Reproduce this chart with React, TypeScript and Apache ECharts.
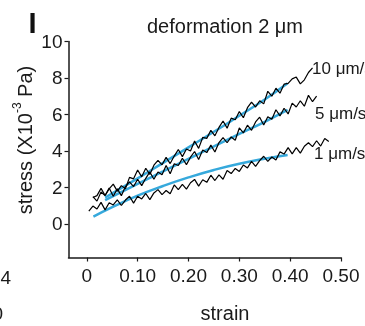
import { useEffect, useRef } from 'react';
import * as echarts from 'echarts';

const strain = [
  0.004, 0.012, 0.020, 0.028, 0.036, 0.044, 0.052, 0.060, 0.068, 0.076,
  0.084, 0.092, 0.100, 0.108, 0.116, 0.124, 0.132, 0.140, 0.148, 0.156,
  0.164, 0.172, 0.180, 0.188, 0.196, 0.204, 0.212, 0.220, 0.228, 0.236,
  0.244, 0.252, 0.260, 0.268, 0.276, 0.284, 0.292, 0.300, 0.308, 0.316,
  0.324, 0.332, 0.340, 0.348, 0.356, 0.364, 0.372, 0.380, 0.388, 0.396,
  0.404, 0.412, 0.420, 0.428, 0.436, 0.444, 0.452, 0.460, 0.468, 0.476,
];

const stress10 = [
  null, 1.45, 1.55, 1.95, 1.56, 1.92, 2.18, 1.80, 2.10, 1.93,
  2.55, 2.47, 2.96, 2.58, 3.05, 2.71, 3.22, 3.48, 3.24, 3.65,
  3.31, 3.72, 4.08, 3.69, 4.11, 4.00, 4.55, 4.14, 4.74, 4.69,
  5.13, 4.83, 5.29, 5.64, 5.25, 5.80, 5.71, 6.16, 5.82, 6.37,
  6.68, 6.41, 6.75, 6.58, 7.27, 7.00, 7.44, 7.17, 7.66, 7.70,
  7.95, 8.05, 7.68, 7.90, 8.30, 8.55, null, null, null, null,
];

const stress5 = [
  null, 1.50, 1.25, 1.75, 1.56, 1.97, 1.52, 1.92, 1.55, 2.05,
  2.30, 2.05, 2.45, 2.10, 2.50, 2.85, 2.45, 2.85, 2.70, 3.20,
  2.75, 3.30, 3.20, 3.60, 3.25, 3.66, 3.97, 3.53, 4.05, 3.91,
  4.32, 3.94, 4.46, 4.73, 4.45, 4.77, 4.59, 5.26, 4.99, 5.41,
  5.13, 5.59, 5.85, 5.42, 5.88, 5.74, 6.26, 5.92, 6.34, 6.03,
  6.62, 6.41, 6.75, 6.45, 7.05, 6.70, 7.00, null, null, null,
];

const stress1 = [
  0.70, 0.98, 0.82, 1.18, 0.77, 1.16, 1.04, 1.32, 1.01, 1.31,
  1.52, 1.14, 1.52, 1.37, 1.67, 1.33, 1.70, 1.88, 1.61, 1.83,
  1.65, 2.14, 1.88, 2.17, 1.91, 2.26, 2.44, 2.07, 2.42, 2.28,
  2.67, 2.38, 2.69, 2.45, 2.93, 2.76, 3.04, 2.88, 3.23, 3.07,
  3.43, 3.15, 3.47, 3.71, 3.43, 3.67, 3.51, 3.95, 3.83, 4.18,
  3.84, 4.18, 3.88, 4.26, 4.45, 4.24, 4.56, 4.27, 4.68, 4.52,
];

const fitStrain = [0.036, 0.10, 0.15, 0.20, 0.25, 0.30, 0.35, 0.395];
const fit10 = [1.45, 2.50, 3.35, 4.20, 5.05, 5.93, 6.82, 7.71];
const fit5 = [1.30, 2.20, 2.88, 3.57, 4.25, 4.93, 5.60, 6.25];
const fitStrain1 = [0.013, 0.05, 0.10, 0.15, 0.20, 0.25, 0.30, 0.35, 0.395];
const fit1 = [0.40, 0.92, 1.55, 2.08, 2.55, 2.96, 3.30, 3.57, 3.78];

const xTicks = [0, 0.1, 0.2, 0.3, 0.4, 0.5];
const yTicks = [0, 2, 4, 6, 8, 10];

const FONT = 'Arial, "Liberation Sans", sans-serif';
const BLUE = '#36a9dc';
const INK = '#1a1a1a';

function zip(xs: number[], ys: (number | null)[]) {
  return xs.map((x, i) => [x, ys[i]]);
}

export default function App() {
  const ref = useRef<HTMLDivElement>(null);
  useEffect(() => {
    const chart = echarts.init(ref.current!, null, { renderer: 'svg' });
    const black = (name: string, ys: (number | null)[]) => ({
      name,
      type: 'line',
      data: zip(strain, ys),
      showSymbol: false,
      symbol: 'none',
      lineStyle: { color: '#000', width: 1.2 },
      z: 3,
    });
    const blue = (name: string, xs: number[], ys: number[]) => ({
      name,
      type: 'line',
      data: zip(xs, ys),
      smooth: true,
      showSymbol: false,
      symbol: 'none',
      lineStyle: { color: BLUE, width: 2.5 },
      z: 2,
    });
    chart.setOption({
      animation: false,
      grid: { left: 68.5, right: 24, top: 41.5, bottom: 68.5, containLabel: false, outerBoundsMode: 'none' },
      xAxis: {
        type: 'value',
        min: -0.036,
        max: 0.5,
        splitLine: { show: false },
        axisLine: { onZero: false, lineStyle: { color: INK, width: 1.5 } },
        axisTick: { show: true, customValues: xTicks, length: 4, lineStyle: { color: INK, width: 1.2 } },
        axisLabel: {
          customValues: xTicks,
          margin: 8,
          color: INK,
          fontSize: 19,
          fontFamily: FONT,
          formatter: (v: number) => (v === 0 ? '0' : v.toFixed(2)),
        },
      },
      yAxis: {
        type: 'value',
        min: -1.84,
        max: 10,
        splitLine: { show: false },
        axisLine: { show: true, onZero: false, lineStyle: { color: INK, width: 1.5 } },
        axisTick: { show: true, customValues: yTicks, length: 4, lineStyle: { color: INK, width: 1.2 } },
        axisLabel: {
          customValues: yTicks,
          margin: 6,
          color: INK,
          fontSize: 19,
          fontFamily: FONT,
        },
      },
      series: [
        blue('fit 10', fitStrain, fit10),
        blue('fit 5', fitStrain, fit5),
        blue('fit 1', fitStrain1, fit1),
        black('10 μm/s', stress10),
        black('5 μm/s', stress5),
        black('1 μm/s', stress1),
      ],
      graphic: [
        { type: 'text', x: 32.5, y: 23, style: { text: 'I', font: `bold 29px ${FONT}`, fill: '#111', align: 'center', verticalAlign: 'middle' } },
        { type: 'text', x: 225, y: 26, style: { text: 'deformation 2 μm', font: `20px ${FONT}`, fill: INK, align: 'center', verticalAlign: 'middle' } },
        { type: 'text', x: 225, y: 313, style: { text: 'strain', font: `20px ${FONT}`, fill: INK, align: 'center', verticalAlign: 'middle' } },
        {
          type: 'text', x: 23, y: 140, rotation: Math.PI / 2,
          style: {
            text: '{a|stress (X10}{s|-3}{a| Pa)}',
            align: 'center', verticalAlign: 'middle', fill: INK,
            rich: {
              a: { fontSize: 20, fontFamily: FONT, fill: INK, lineHeight: 24, verticalAlign: 'bottom' },
              s: { fontSize: 12, fontFamily: FONT, fill: INK, lineHeight: 24, verticalAlign: 'top' },
            },
          },
        },
        { type: 'text', x: 312, y: 68, style: { text: '10 μm/s', font: `17px ${FONT}`, fill: INK, align: 'left', verticalAlign: 'middle' } },
        { type: 'text', x: 315, y: 113, style: { text: '5 μm/s', font: `17px ${FONT}`, fill: INK, align: 'left', verticalAlign: 'middle' } },
        { type: 'text', x: 314, y: 153, style: { text: '1 μm/s', font: `17px ${FONT}`, fill: INK, align: 'left', verticalAlign: 'middle' } },
        { type: 'text', x: 11, y: 277, style: { text: '4', font: `19px ${FONT}`, fill: INK, align: 'right', verticalAlign: 'middle' } },
        { type: 'text', x: 3, y: 313, style: { text: '0', font: `19px ${FONT}`, fill: INK, align: 'right', verticalAlign: 'middle' } },
      ],
    });
    return () => chart.dispose();
  }, []);
  return <div ref={ref} style={{ position: 'fixed', left: 0, top: 0, width: 365, height: 326 }} />;
}
